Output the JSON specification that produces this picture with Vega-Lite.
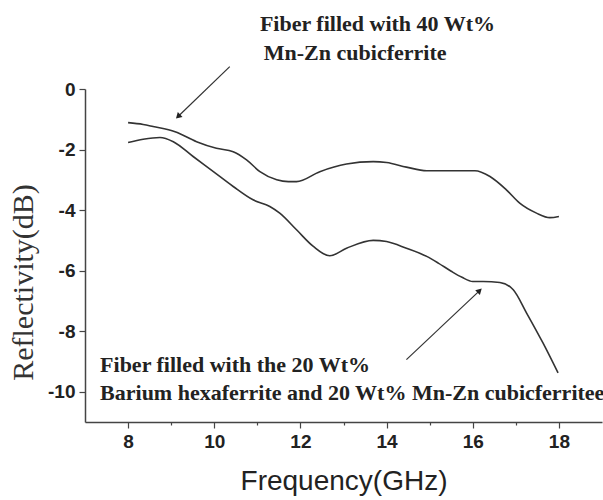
{
  "$schema": "https://vega.github.io/schema/vega-lite/v6.json",
  "width": 517,
  "height": 333,
  "autosize": "none",
  "padding": {"left": 85, "top": 89, "right": 1, "bottom": 78},
  "background": "white",
  "config": {
    "view": {"stroke": null},
    "axis": {
      "grid": false,
      "domainColor": "#444",
      "domainWidth": 1.5,
      "tickColor": "#444",
      "tickWidth": 1.2,
      "labelFont": "Liberation Sans",
      "labelFontWeight": "bold",
      "labelFontSize": 19,
      "labelColor": "#222"
    }
  },
  "datasets": {
    "curves": [
      {"series": "A", "freq": 8.0, "refl": -1.11},
      {"series": "A", "freq": 8.35, "refl": -1.17},
      {"series": "A", "freq": 8.58, "refl": -1.24},
      {"series": "A", "freq": 9.09, "refl": -1.41},
      {"series": "A", "freq": 9.59, "refl": -1.74},
      {"series": "A", "freq": 10.05, "refl": -1.96},
      {"series": "A", "freq": 10.44, "refl": -2.07},
      {"series": "A", "freq": 10.75, "refl": -2.34},
      {"series": "A", "freq": 11.06, "refl": -2.73},
      {"series": "A", "freq": 11.45, "refl": -3.0},
      {"series": "A", "freq": 11.72, "refl": -3.06},
      {"series": "A", "freq": 11.91, "refl": -3.06},
      {"series": "A", "freq": 12.45, "refl": -2.73},
      {"series": "A", "freq": 13.07, "refl": -2.48},
      {"series": "A", "freq": 13.69, "refl": -2.4},
      {"series": "A", "freq": 14.0, "refl": -2.43},
      {"series": "A", "freq": 14.46, "refl": -2.58},
      {"series": "A", "freq": 14.93, "refl": -2.7},
      {"series": "A", "freq": 15.47, "refl": -2.7},
      {"series": "A", "freq": 16.05, "refl": -2.7},
      {"series": "A", "freq": 16.4, "refl": -2.89},
      {"series": "A", "freq": 16.78, "refl": -3.33},
      {"series": "A", "freq": 17.09, "refl": -3.77},
      {"series": "A", "freq": 17.48, "refl": -4.1},
      {"series": "A", "freq": 17.79, "refl": -4.25},
      {"series": "A", "freq": 18.0, "refl": -4.21},
      {"series": "B", "freq": 8.0, "refl": -1.77},
      {"series": "B", "freq": 8.35, "refl": -1.66},
      {"series": "B", "freq": 8.74, "refl": -1.6},
      {"series": "B", "freq": 9.05, "refl": -1.74},
      {"series": "B", "freq": 9.51, "refl": -2.23},
      {"series": "B", "freq": 9.98, "refl": -2.73},
      {"series": "B", "freq": 10.44, "refl": -3.22},
      {"series": "B", "freq": 10.9, "refl": -3.66},
      {"series": "B", "freq": 11.29, "refl": -3.88},
      {"series": "B", "freq": 11.52, "refl": -4.1},
      {"series": "B", "freq": 11.91, "refl": -4.65},
      {"series": "B", "freq": 12.3, "refl": -5.2},
      {"series": "B", "freq": 12.68, "refl": -5.51},
      {"series": "B", "freq": 13.07, "refl": -5.26},
      {"series": "B", "freq": 13.69, "refl": -5.0},
      {"series": "B", "freq": 14.0, "refl": -5.04},
      {"series": "B", "freq": 14.46, "refl": -5.26},
      {"series": "B", "freq": 14.93, "refl": -5.53},
      {"series": "B", "freq": 15.2, "refl": -5.75},
      {"series": "B", "freq": 15.5, "refl": -6.02},
      {"series": "B", "freq": 15.75, "refl": -6.22},
      {"series": "B", "freq": 16.0, "refl": -6.36},
      {"series": "B", "freq": 16.24, "refl": -6.36},
      {"series": "B", "freq": 16.63, "refl": -6.39},
      {"series": "B", "freq": 16.94, "refl": -6.63},
      {"series": "B", "freq": 17.25, "refl": -7.4},
      {"series": "B", "freq": 17.63, "refl": -8.39},
      {"series": "B", "freq": 17.98, "refl": -9.38}
    ],
    "arrows": [
      {"arrow": "top", "fx": 10.36, "fy": 0.74, "tx": 9.16, "ty": -0.91},
      {"arrow": "bottom", "fx": 14.46, "fy": -8.94, "tx": 16.16, "ty": -6.66}
    ],
    "notes": [
      {"x": 11.06, "y": 1.92, "text": "Fiber filled with 40 Wt%"},
      {"x": 11.15, "y": 0.96, "text": "Mn-Zn cubicferrite"},
      {"x": 7.35, "y": -9.34, "text": "Fiber filled with the 20 Wt%"},
      {"x": 7.35, "y": -10.26, "text": "Barium hexaferrite and 20 Wt% Mn-Zn cubicferritee"}
    ]
  },
  "layer": [
    {
      "data": {"name": "curves"},
      "mark": {"type": "line", "interpolate": "monotone", "color": "#333", "strokeWidth": 1.6},
      "encoding": {
        "x": {
          "field": "freq", "type": "quantitative",
          "scale": {"domain": [7, 19], "nice": false, "zero": false},
          "axis": {
            "values": [8, 9, 10, 11, 12, 13, 14, 15, 16, 17, 18],
            "labelExpr": "datum.value % 2 === 0 ? '' + datum.value : ''",
            "tickSize": {"condition": {"test": "datum.value % 2 !== 0", "value": 3}, "value": 6},
            "labelPadding": 4,
            "labelFlush": false,
            "title": "Frequency(GHz)",
            "titleFont": "Liberation Sans",
            "titleFontSize": 28,
            "titleFontWeight": "normal",
            "titleColor": "#222",
            "titleBaseline": "alphabetic",
            "titleY": 67
          }
        },
        "y": {
          "field": "refl", "type": "quantitative",
          "scale": {"domain": [-11, 0], "nice": false, "zero": false},
          "axis": {
            "values": [-10, -9, -8, -7, -6, -5, -4, -3, -2, -1, 0],
            "labelExpr": "datum.value % 2 === 0 ? '' + datum.value : ''",
            "tickSize": {"condition": {"test": "datum.value % 2 !== 0", "value": 3}, "value": 6},
            "labelPadding": 4,
            "labelFlush": false,
            "title": "Reflectivity(dB)",
            "titleFont": "Liberation Serif",
            "titleFontSize": 30,
            "titleFontWeight": "normal",
            "titleColor": "#333",
            "titleAngle": -90,
            "titleBaseline": "middle",
            "titleAlign": "center",
            "titleX": -62,
            "titleY": 193
          }
        },
        "detail": {"field": "series"}
      }
    },
    {
      "data": {"name": "arrows"},
      "mark": {"type": "rule", "color": "#333", "strokeWidth": 1.2},
      "encoding": {
        "x": {"field": "fx", "type": "quantitative"},
        "y": {"field": "fy", "type": "quantitative"},
        "x2": {"field": "tx"},
        "y2": {"field": "ty"}
      }
    },
    {
      "data": {"name": "arrows"},
      "transform": [{"filter": "datum.arrow === 'top'"}],
      "mark": {"type": "point", "shape": "triangle-up", "filled": true, "color": "#222", "size": 45, "angle": 226, "opacity": 1},
      "encoding": {
        "x": {"field": "tx", "type": "quantitative"},
        "y": {"field": "ty", "type": "quantitative"}
      }
    },
    {
      "data": {"name": "arrows"},
      "transform": [{"filter": "datum.arrow === 'bottom'"}],
      "mark": {"type": "point", "shape": "triangle-up", "filled": true, "color": "#222", "size": 45, "angle": 46, "opacity": 1},
      "encoding": {
        "x": {"field": "tx", "type": "quantitative"},
        "y": {"field": "ty", "type": "quantitative"}
      }
    },
    {
      "data": {"name": "notes"},
      "mark": {"type": "text", "align": "left", "baseline": "alphabetic", "font": "Liberation Serif", "fontWeight": "bold", "fontSize": 22, "color": "#222"},
      "encoding": {
        "x": {"field": "x", "type": "quantitative"},
        "y": {"field": "y", "type": "quantitative"},
        "text": {"field": "text"}
      }
    }
  ]
}
